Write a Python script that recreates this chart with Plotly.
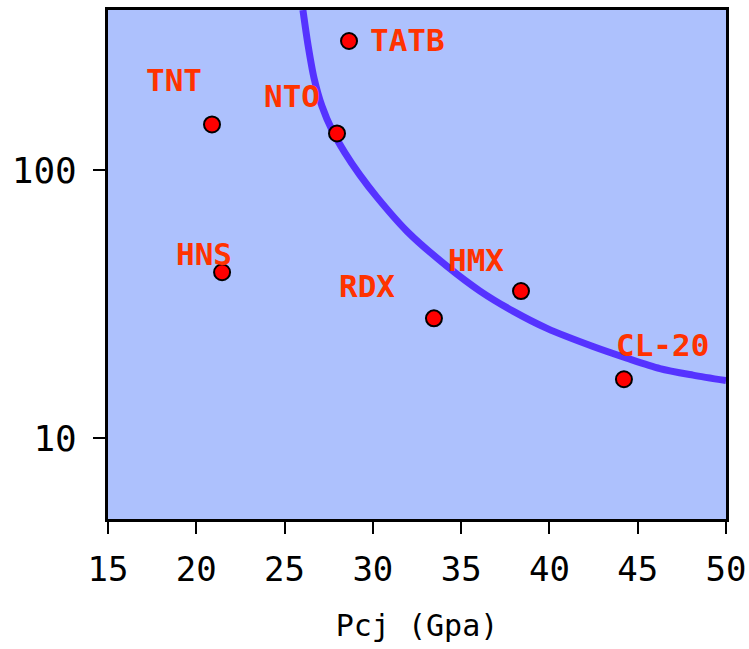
import math
import plotly.graph_objects as go

# Data points (Pcj in GPa, y on log scale)
names = ["TATB", "TNT", "NTO", "HNS", "RDX", "HMX", "CL-20"]
pcj = [28.65, 20.89, 27.97, 21.46, 33.46, 38.39, 44.22]
yvals = [303, 148, 137, 41.6, 28.0, 35.4, 16.6]

# label positions (data units)
label_x = [31.99, 18.74, 25.42, 20.44, 29.67, 35.84, 46.38]
label_y = [305, 217, 189, 48.6, 36.9, 46.1, 22.2]

# curve
curve_x = [26.04, 26.33, 26.67, 27.12, 27.69, 28.42, 29.27, 30.23, 31.93,
           34.20, 36.07, 37.94, 39.86, 42.47, 44.39, 46.26, 48.13, 50.0]
curve_y = [395, 292, 220, 173, 141, 116, 95.8, 79.3, 59.2,
           43.8, 35.4, 29.8, 25.7, 22.0, 19.9, 18.2, 17.2, 16.4]

xticks = [15, 20, 25, 30, 35, 40, 45, 50]
yticks = [10, 100]
ytick_text = ["10", "100"]

FONT = "DejaVu Sans Mono"

fig = go.Figure()
fig.add_trace(go.Scatter(
    x=curve_x, y=curve_y, mode="lines",
    line=dict(color="#5533FF", width=7, shape="spline", smoothing=0.8),
    hoverinfo="skip", showlegend=False,
))
fig.add_trace(go.Scatter(
    x=pcj, y=yvals, mode="markers",
    marker=dict(color="#FF0000", size=16, line=dict(color="black", width=2)),
    text=names, showlegend=False,
))
for n, lx, ly in zip(names, label_x, label_y):
    fig.add_annotation(x=lx, y=math.log10(ly), yref="y", xref="x", text=n, showarrow=False,
                       font=dict(family=FONT, size=31, color="#FF3300", weight="bold"),
                       xanchor="center", yanchor="middle")

fig.update_layout(
    width=749, height=649,
    margin=dict(l=108, r=23, t=10, b=130),
    paper_bgcolor="white",
    plot_bgcolor="#ADC1FD",
    font=dict(family=FONT, color="black"),
    xaxis=dict(
        range=[15, 50], tickvals=xticks, showgrid=False, zeroline=False,
        automargin=False,
        ticks="outside", ticklen=12, tickwidth=2, tickcolor="black",
        showline=True, linecolor="black", linewidth=3, mirror=True,
        tickfont=dict(family=FONT, size=34, color="black"),
        ticklabelstandoff=6,
        title=dict(text="Pcj (Gpa)", font=dict(family=FONT, size=30, color="black"), standoff=28),
    ),
    yaxis=dict(
        type="log", range=[0.699, 2.597], tickvals=yticks, ticktext=ytick_text,
        showgrid=False, zeroline=False, automargin=False,
        ticks="outside", ticklen=12, tickwidth=2, tickcolor="black",
        showline=True, linecolor="black", linewidth=3, mirror=True,
        tickfont=dict(family=FONT, size=36, color="black"),
        ticklabelstandoff=9,
    ),
)

fig.write_html(
    "out.html",
    config={"displayModeBar": False},
    post_script="document.body.style.margin='0';document.documentElement.style.overflow='hidden';",
)
